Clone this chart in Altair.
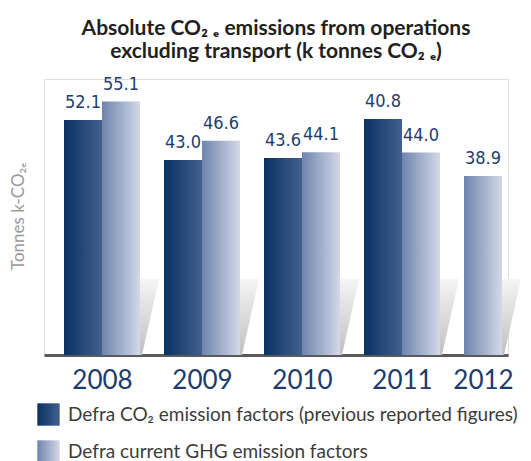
import altair as alt
import pandas as pd

# ---- data ----
years = ["2008", "2009", "2010", "2011", "2012"]
series = [
    "Defra CO₂ emission factors (previous reported figures)",
    "Defra current GHG emission factors",
]
co2_heights = [51.1, 42.4, 42.8, 51.3, None]      # bar heights as drawn
co2_labels = ["52.1", "43.0", "43.6", "40.8", None]
ghg_heights = [55.1, 46.6, 44.1, 44.0, 38.9]
ghg_labels = ["55.1", "46.6", "44.1", "44.0", "38.9"]

# ---- layout / style constants ----
GROUP_START = 0.2
BAR_W = 0.38
FLOOR_DEPTH = 16.5
FLOOR_TOP_W = 0.19
FLOOR_BOT_W = 0.02

bar_rows, floor_rows, centers = [], [], []
for g, yr in enumerate(years):
    slot = 0
    for s, h, lab in ((series[0], co2_heights[g], co2_labels[g]),
                      (series[1], ghg_heights[g], ghg_labels[g])):
        if h is None:
            continue
        x0 = g + GROUP_START + slot * BAR_W
        bar_rows.append(dict(year=yr, series=s, x0=x0, x1=x0 + BAR_W,
                             xm=x0 + BAR_W / 2, value=h, label=lab))
        slot += 1
    right = g + GROUP_START + slot * BAR_W
    centers.append(round(g + GROUP_START + slot * BAR_W / 2, 4))
    floor_rows += [
        dict(year=yr, fx=right, top=FLOOR_DEPTH, bot=0),
        dict(year=yr, fx=right + FLOOR_BOT_W, top=FLOOR_DEPTH, bot=0),
        dict(year=yr, fx=right + FLOOR_TOP_W, top=FLOOR_DEPTH, bot=FLOOR_DEPTH),
    ]

bar_df = pd.DataFrame(bar_rows)
floor_df = pd.DataFrame(floor_rows)

dark_expr = ("{gradient: 'linear', x1: 0, y1: 0, x2: 1, y2: 0, stops: ["
             "{offset: 0, color: '#0a3163'}, {offset: 1, color: '#42608d'}]}")
light_expr = ("{gradient: 'linear', x1: 0, y1: 0, x2: 1, y2: 0, stops: ["
              "{offset: 0, color: '#6e84ac'}, {offset: 1, color: '#d3d9e8'}]}")

floor_grad = alt.Gradient(
    gradient="linear", x1=0, y1=0, x2=0, y2=1,
    stops=[alt.GradientStop(offset=0, color="#f5f5f5"),
           alt.GradientStop(offset=1, color="#c0c0c0")],
)

x_scale = alt.Scale(domain=[0, 4.64], nice=False, zero=False)
y_scale = alt.Scale(domain=[0, 60], nice=False)

years_js = "[" + ",".join(f"'{y}'" for y in years) + "]"
x_axis = alt.Axis(
    values=centers, labelExpr=f"{years_js}[floor(datum.value)]",
    title=None, ticks=False, tickSize=0, grid=False,
    domainColor="#5a5a5a", domainWidth=3,
    labelFont="Lato", labelFontSize=26, labelColor="#1d3b6c",
    labelPadding=12, labelFlush=False, labelOverlap=False,
)
y_axis = alt.Axis(
    title="Tonnes k-CO₂ₑ", domain=False, ticks=False, labels=False, grid=False,
    titleFont="Lato", titleFontSize=17, titleFontWeight="normal",
    titleColor="#9a9a9a", titleAngle=-90, titleX=-17, titleY=137,
    titleBaseline="bottom", titleAlign="center",
)

floor = alt.Chart(floor_df).mark_area(color=floor_grad, interpolate="linear").encode(
    x=alt.X("fx:Q", scale=x_scale, axis=x_axis),
    y=alt.Y("top:Q", scale=y_scale, axis=y_axis),
    y2="bot:Q",
    detail="year:N",
)

bars = alt.Chart(bar_df).mark_bar().encode(
    x=alt.X("x0:Q", scale=x_scale, axis=x_axis),
    x2="x1:Q",
    y=alt.Y("value:Q", scale=y_scale, axis=y_axis, stack=None),
    y2=alt.datum(0),
    color=alt.Color(
        "series:N",
        scale=alt.Scale(domain=series, range=[{"expr": dark_expr}, {"expr": light_expr}]),
        legend=alt.Legend(
            title=None, orient="none", legendX=-7, legendY=324,
            symbolType="square", symbolSize=500, symbolStrokeWidth=0,
            labelFont="Lato", labelFontSize=19, labelColor="#3c3c3c",
            labelOffset=8, rowPadding=14, padding=0, labelLimit=0,
            symbolOpacity=1,
        ),
    ),
)

labels = alt.Chart(bar_df).mark_text(
    font="Liberation Sans Narrow, DejaVu Sans Condensed, Roboto",
    fontSize=18, color="#1f3d6d", baseline="alphabetic", dy=-12, align="center",
).encode(
    x=alt.X("xm:Q", scale=x_scale, axis=x_axis),
    y=alt.Y("value:Q", scale=y_scale, axis=y_axis, stack=None),
    text="label:N",
)

chart = alt.layer(floor, bars, labels).properties(
    width=464, height=276,
    padding={"left": 36, "top": 71, "right": 15, "bottom": 106},
    autosize="none",
    title=alt.TitleParams(
        text=["Absolute CO₂ ₑ emissions from operations",
              "excluding transport (k tonnes CO₂ ₑ)"],
        font="Lato", fontSize=21, fontWeight="bold", color="#231f20",
        anchor="middle", frame="group", offset=14, lineHeight=23,
    ),
).configure_view(stroke=None).configure(background="white")

chart.save("out.html", embed_options={"renderer": "svg", "actions": False})
